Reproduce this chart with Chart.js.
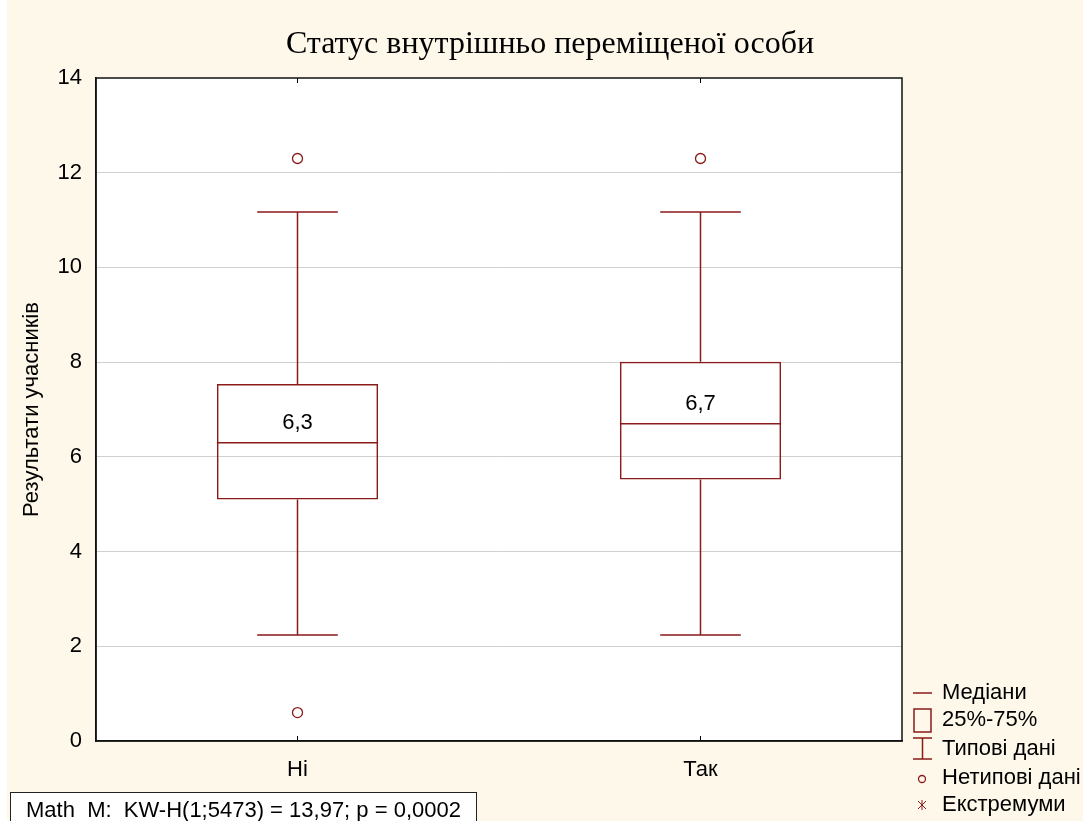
<!DOCTYPE html>
<html>
<head>
<meta charset="utf-8">
<script src="https://cdn.jsdelivr.net/npm/chart.js@4/dist/chart.umd.min.js"></script>
<style>
html,body{margin:0;padding:0;background:#fdf8ea;}
#wrap{position:relative;width:1083px;height:821px;}
</style>
</head>
<body>
<div id="wrap"><canvas id="c" width="1083" height="821"></canvas></div>
<script>
const categories = ['Ні', 'Так'];
const q1 = [5.10, 5.52];
const q3 = [7.54, 8.01];
const medians = [6.3, 6.7];
const whiskerLow = [2.24, 2.24];
const whiskerHigh = [11.17, 11.17];
const outlierCategory = ['Ні', 'Ні', 'Так'];
const outlierValues = [12.30, 0.60, 12.30];
const yTicks = [0, 2, 4, 6, 8, 10, 12, 14];
const titleText = 'Статус внутрішньо переміщеної особи';
const yTitle = 'Результати учасників';
const statsText = 'Math  M:  KW-H(1;5473) = 13,97; p = 0,0002';
const legendItems = ['Медіани', '25%-75%', 'Типові дані', 'Нетипові дані', 'Екстремуми'];

const RED = '#8b1a1a';
const SANS = '"Liberation Sans", Arial, sans-serif';
const FS = 22;

const boxPlugin = {
  id: 'boxExtras',
  beforeDraw(chart) {
    const ctx = chart.ctx, a = chart.chartArea;
    ctx.save();
    ctx.fillStyle = '#fdf8ea';
    ctx.fillRect(0, 0, chart.width, chart.height);
    ctx.fillStyle = '#ffffff';
    ctx.fillRect(0, 0, 7, chart.height);
    ctx.fillRect(a.left, a.top, a.right - a.left, a.bottom - a.top);
    ctx.restore();
  },
  afterDatasetsDraw(chart) {
    const ctx = chart.ctx, x = chart.scales.x, y = chart.scales.y, a = chart.chartArea;
    const meta = chart.getDatasetMeta(0);
    ctx.save();
    categories.forEach((c, i) => {
      const cx = x.getPixelForValue(i);
      const bw = meta.data[i].width;
      const cap = bw / 4;
      ctx.strokeStyle = RED;
      ctx.lineWidth = 1.5;
      ctx.beginPath();
      ctx.moveTo(cx, y.getPixelForValue(q3[i]));
      ctx.lineTo(cx, y.getPixelForValue(whiskerHigh[i]));
      ctx.moveTo(cx - cap, y.getPixelForValue(whiskerHigh[i]));
      ctx.lineTo(cx + cap, y.getPixelForValue(whiskerHigh[i]));
      ctx.moveTo(cx, y.getPixelForValue(q1[i]));
      ctx.lineTo(cx, y.getPixelForValue(whiskerLow[i]));
      ctx.moveTo(cx - cap, y.getPixelForValue(whiskerLow[i]));
      ctx.lineTo(cx + cap, y.getPixelForValue(whiskerLow[i]));
      ctx.stroke();
      const my = y.getPixelForValue(medians[i]);
      ctx.beginPath();
      ctx.moveTo(cx - bw / 2, my);
      ctx.lineTo(cx + bw / 2, my);
      ctx.stroke();
      ctx.fillStyle = '#000';
      ctx.font = FS + 'px ' + SANS;
      ctx.textAlign = 'center';
      ctx.textBaseline = 'middle';
      ctx.fillText(String(medians[i]).replace('.', ','), cx, my - 20);
      ctx.strokeStyle = '#000';
      ctx.lineWidth = 1;
      ctx.beginPath();
      ctx.moveTo(cx, a.bottom);
      ctx.lineTo(cx, a.bottom - 5);
      ctx.moveTo(cx, a.top);
      ctx.lineTo(cx, a.top + 5);
      ctx.stroke();
    });
    ctx.strokeStyle = '#111';
    ctx.lineWidth = 1.5;
    ctx.strokeRect(a.left, a.top, a.right - a.left, a.bottom - a.top);
    ctx.restore();
  },
  afterDraw(chart) {
    const ctx = chart.ctx;
    ctx.save();
    ctx.fillStyle = '#000';
    ctx.font = '32px "Liberation Serif", "Times New Roman", serif';
    ctx.textAlign = 'center';
    ctx.textBaseline = 'middle';
    ctx.fillText(titleText, 550, 45);
    // stats box
    ctx.strokeStyle = '#222';
    ctx.lineWidth = 1;
    ctx.fillStyle = '#ffffff';
    ctx.fillRect(10.5, 792.5, 466, 40);
    ctx.strokeRect(10.5, 792.5, 466, 40);
    ctx.fillStyle = '#000';
    ctx.font = FS + 'px ' + SANS;
    ctx.textAlign = 'left';
    ctx.textBaseline = 'alphabetic';
    ctx.fillText(statsText, 26, 817);
    // legend
    const tx = 942;
    const ys = [693, 720, 749, 778, 805];
    ctx.strokeStyle = RED;
    ctx.lineWidth = 1.5;
    ctx.beginPath(); ctx.moveTo(913, ys[0]); ctx.lineTo(932, ys[0]); ctx.stroke();
    ctx.strokeRect(914, 709, 17, 23);
    ctx.beginPath();
    ctx.moveTo(913, 738); ctx.lineTo(932, 738);
    ctx.moveTo(922.5, 738); ctx.lineTo(922.5, 759);
    ctx.moveTo(913, 759); ctx.lineTo(932, 759);
    ctx.stroke();
    ctx.lineWidth = 1.3;
    ctx.beginPath(); ctx.arc(922, ys[3] + 1, 3.5, 0, Math.PI * 2); ctx.stroke();
    ctx.lineWidth = 1;
    ctx.beginPath();
    ctx.moveTo(918, ys[4] - 4); ctx.lineTo(926, ys[4] + 4);
    ctx.moveTo(926, ys[4] - 4); ctx.lineTo(918, ys[4] + 4);
    ctx.moveTo(922, ys[4] - 5); ctx.lineTo(922, ys[4] + 5);
    ctx.stroke();
    ctx.fillStyle = '#000';
    ctx.font = FS + 'px ' + SANS;
    ctx.textAlign = 'left';
    ctx.textBaseline = 'middle';
    legendItems.forEach((t, i) => ctx.fillText(t, tx, ys[i]));
    ctx.restore();
  }
};

new Chart(document.getElementById('c'), {
  type: 'bar',
  data: {
    labels: categories,
    datasets: [
      {
        label: '25%-75%',
        data: categories.map((c, i) => [q1[i], q3[i]]),
        backgroundColor: 'rgba(255,255,255,0)',
        borderColor: RED,
        borderWidth: 1.5,
        borderSkipped: false,
        barPercentage: 0.4,
        categoryPercentage: 1.0,
        order: 2
      },
      {
        type: 'line',
        label: 'Нетипові дані',
        data: outlierCategory.map((c, i) => ({ x: c, y: outlierValues[i] })),
        showLine: false,
        pointStyle: 'circle',
        pointRadius: 5,
        pointBorderWidth: 1.3,
        pointBorderColor: RED,
        pointBackgroundColor: '#ffffff',
        order: 1
      }
    ]
  },
  options: {
    responsive: false,
    animation: false,
    events: [],
    layout: { padding: { top: 78, right: 181, bottom: 0, left: 0 } },
    plugins: { legend: { display: false }, title: { display: false }, tooltip: { enabled: false } },
    scales: {
      x: {
        type: 'category',
        offset: true,
        grid: { display: false, drawTicks: false },
        border: { display: true, color: '#111', width: 1.5 },
        ticks: { color: '#000', font: { family: SANS, size: FS }, padding: 16 },
        afterFit(s) { s.height = 80; }
      },
      y: {
        min: 0, max: 14,
        afterBuildTicks(s) { s.ticks = yTicks.map(v => ({ value: v })); },
        grid: {
          drawTicks: false,
          color: (c) => (c.tick && (c.tick.value === 0 || c.tick.value === 14)) ? 'rgba(0,0,0,0)' : '#d0d0d0',
          lineWidth: 1
        },
        border: { display: true, color: '#111', width: 1.5 },
        ticks: { color: '#000', font: { family: SANS, size: FS }, padding: 14 },
        title: { display: true, text: yTitle, color: '#000', font: { family: SANS, size: FS }, padding: { top: 19, bottom: 0 } },
        afterFit(s) { s.width = 96; }
      }
    }
  },
  plugins: [boxPlugin]
});
</script>
</body>
</html>
